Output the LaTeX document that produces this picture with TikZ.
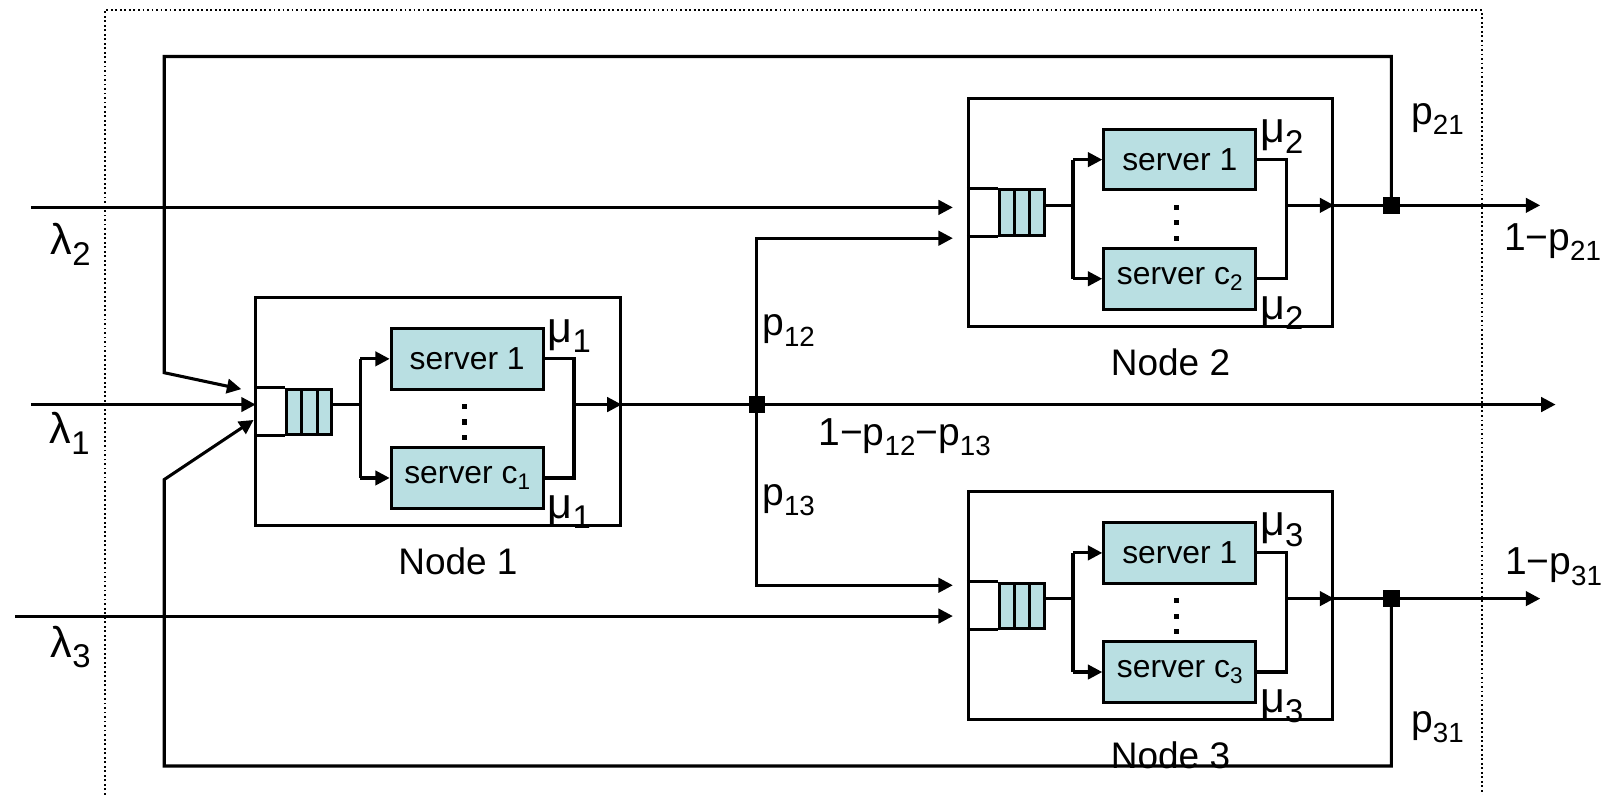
\documentclass[tikz,border=0pt]{standalone}
\usepackage{fontspec}
\setmainfont{Liberation Sans}
\usepackage{graphicx}
\usetikzlibrary{arrows.meta}
\definecolor{srvfill}{RGB}{185,223,226}

% lowered, smaller index text
\newcommand\subtxt[3]{\raisebox{-#1}{\fontsize{#2}{#2}\selectfont #3}}
\newcommand\gsub[1]{\subtxt{5pt}{16}{#1}}
\newcommand\psub[1]{\subtxt{5pt}{13.5}{#1}}
\newcommand\ssub[1]{\subtxt{3pt}{11}{#1}}

\tikzset{
  arr/.style={-{Triangle[length=7pt,width=7pt]}},
  stationbox/.style={draw, line width=1.4pt, minimum width=177.5pt, minimum height=111pt, inner sep=0pt},
  qcells/.style={draw, fill=srvfill, minimum width=22pt, minimum height=22pt, inner sep=0pt},
  server/.style={draw, fill=srvfill, line width=1.5pt, minimum width=74pt, minimum height=29.5pt, inner sep=0pt,
                 font=\fontsize{15.5}{15.5}\selectfont},
  greek/.style={inner sep=0pt, font=\fontsize{21}{21}\selectfont},
  prob/.style={inner sep=0pt, font=\fontsize{19}{19}\selectfont},
  nodelabel/.style={inner sep=0pt, font=\fontsize{18}{18}\selectfont},
  junction/.style={fill=black, draw=none, minimum size=8pt, inner sep=0pt},
  frame/.style={line width=0.9pt, dash pattern=on 0.9pt off 1.3pt}
}

% one multi-server station: #1 index, (#2,#3) top-left corner of its box
\newcommand\station[3]{%
\begin{scope}[shift={(#2,#3)}]
  \node[stationbox] (box#1) at (177.5,111) {};
  % waiting line
  \node[qcells] (q#1) at (52,111) {};
  \draw (45,89) -- (45,133);
  \draw (60,89) -- (60,133);
  \draw (box#1.west |- q#1.north) -- (q#1.north west);
  \draw (box#1.west |- q#1.south) -- (q#1.south west);
  % servers
  \node[server] (sa#1) at (206,59.5) {server 1};
  \node[server] (sc#1) at (206,175.5) {server c\ssub{#1}};
  \fill (200.5,103.5) rectangle (205.5,108.5);
  \fill (200.5,118.5) rectangle (205.5,123.5);
  \fill (200.5,133.5) rectangle (205.5,138.5);
  % fork and join
  \coordinate (fk#1) at (102,104);
  \coordinate (jn#1) at (310,104);
  \coordinate (in#1) at (0,104);
  \draw (q#1.east |- fk#1) -- (fk#1);
  \draw (fk#1 |- sa#1.west) -- (fk#1 |- sc#1.west);
  \draw[arr] (fk#1 |- sa#1.west) -- (sa#1.west);
  \draw[arr] (fk#1 |- sc#1.west) -- (sc#1.west);
  \draw (sa#1.east) -- (jn#1 |- sa#1.east) -- (jn#1 |- sc#1.east) -- (sc#1.east);
  \draw[arr] (jn#1) -- (box#1.east |- jn#1);
  % labels
  \node[greek, anchor=west] (mua#1) at (283,37) {μ\gsub{#1}};
  \node[greek, anchor=west] (muc#1) at (283,209) {μ\gsub{#1}};
  \node[nodelabel] (lab#1) at (197,257) {Node #1};
\end{scope}}

\begin{document}
\begin{tikzpicture}[x=0.5pt, y=-0.5pt, line width=1.5pt]
\useasboundingbox (0,0) rectangle (1568,774);

% dotted enclosure
\draw[frame] (102,774) -- (102,10) -- (1443,10) -- (1443,774);

\station{1}{249}{290}
\station{2}{943}{96}
\station{3}{943}{479}

% routing points
\node[junction] (J1) at (737,394) {};
\node[junction] (J2) at (1355,200) {};
\node[junction] (J3) at (1355,583) {};

\coordinate (l1s) at (30,394);
\coordinate (l2s) at (30,202);
\coordinate (l2e) at (928,202);
\coordinate (l3s) at (15,600);
\coordinate (l3e) at (928,600);
\coordinate (t12) at (928,232);
\coordinate (t13) at (928,570);
\coordinate (o1) at (1515,394);
\coordinate (o2) at (1500,200);
\coordinate (o3) at (1500,583);
\coordinate (fbTL) at (160,55);
\coordinate (fbL1) at (160,363);
\coordinate (tipA) at (235,379);
\coordinate (fbBL) at (160,746);
\coordinate (fbL3) at (160,467);
\coordinate (tipB) at (247,409);

% external arrivals
\draw[arr] (l1s) -- (in1);
\draw[arr] (l2s) -- (l2e);
\draw[arr] (l3s) -- (l3e);

% departures from node 1
\draw (box1.east |- J1) -- (J1.center);
\draw[arr] (J1.center) -- (o1);
\draw[arr] (J1.center) |- (t12);
\draw[arr] (J1.center) |- (t13);

% departures from node 2 and feedback
\draw (box2.east |- J2) -- (J2.center);
\draw[arr] (J2.center) -- (o2);
\draw[arr] (J2.center) -- (J2.center |- fbTL) -- (fbTL) -- (fbL1) -- (tipA);

% departures from node 3 and feedback
\draw (box3.east |- J3) -- (J3.center);
\draw[arr] (J3.center) -- (o3);
\draw[arr] (J3.center) -- (J3.center |- fbBL) -- (fbBL) -- (fbL3) -- (tipB);

% rates and probabilities
\node[greek] (lam1) at (68,422) {λ\gsub{1}};
\node[greek] (lam2) at (69,238) {λ\gsub{2}};
\node[greek] (lam3) at (69,630) {λ\gsub{3}};
\node[prob] (p21) at (1400,116) {p\psub{21}};
\node[prob] (q21) at (1512,236) {1−p\psub{21}};
\node[prob] (p12) at (768,322) {p\psub{12}};
\node[prob] (q1) at (881,426) {1−p\psub{12}−p\psub{13}};
\node[prob] (p13) at (768,487) {p\psub{13}};
\node[prob] (q31) at (1513,552) {1−p\psub{31}};
\node[prob] (p31) at (1400,708) {p\psub{31}};
\end{tikzpicture}
\end{document}
